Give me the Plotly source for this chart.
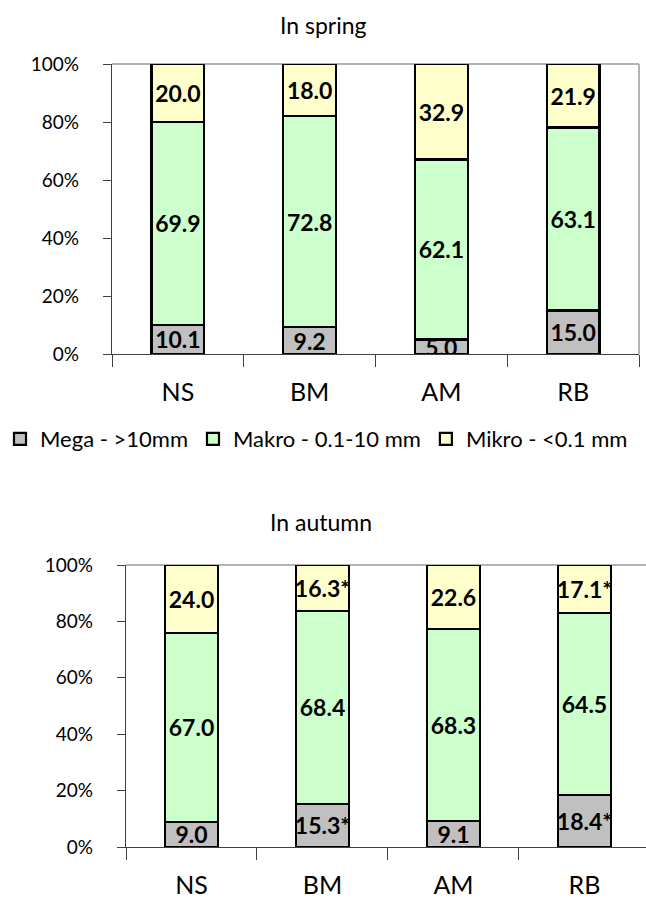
import plotly.graph_objects as go

# Sites and size-fraction shares (%) of the sediment samples
sites = ["NS", "BM", "AM", "RB"]
series_names = ["Mega - >10mm", "Makro - 0.1-10 mm", "Mikro - <0.1 mm"]
series_colors = ["#C0C0C0", "#CCFFCC", "#FFFFCC"]

spring_mega = [10.1, 9.2, 5.0, 15.0]
spring_makro = [69.9, 72.8, 62.1, 63.1]
spring_mikro = [20.0, 18.0, 32.9, 21.9]

autumn_mega = [9.0, 15.3, 9.1, 18.4]
autumn_makro = [67.0, 68.4, 68.3, 64.5]
autumn_mikro = [24.0, 16.3, 22.6, 17.1]

# significance markers appended to the autumn mega / mikro labels
spring_flags = ["", "", "", ""]
autumn_flags = ["", "*", "", "*"]

yticks = [0, 20, 40, 60, 80, 100]
ytick_text = [f"{v}%" for v in yticks]

FONT = "Lato, Open Sans, sans-serif"
W, H = 646, 899

fig = go.Figure()


def label(values, flags=None):
    flags = flags or [""] * len(values)
    return [f"{v:.1f}{f}" for v, f in zip(values, flags)]


def add_panel(xa, ya, mega, makro, mikro, flags, show_legend):
    data = [
        (mega, label(mega, flags)),
        (makro, label(makro)),
        (mikro, label(mikro, flags)),
    ]
    for (vals, txt), name, col in zip(data, series_names, series_colors):
        fig.add_trace(go.Bar(
            x=sites, y=vals, name=name, text=txt,
            textposition="inside", insidetextanchor="middle",
            textangle=0, constraintext="none",
            textfont=dict(family=FONT, size=23, color="black", weight="bold"),
            marker=dict(color=col, line=dict(color="black", width=2.2)),
            xaxis=xa, yaxis=ya, showlegend=show_legend,
            cliponaxis=True,
        ))


add_panel("x", "y", spring_mega, spring_makro, spring_mikro, spring_flags, True)
add_panel("x2", "y2", autumn_mega, autumn_makro, autumn_mikro, autumn_flags, False)

axis_col = "#404040"
frame_col = "#9a9a9a"

common_x = dict(
    type="category", tickson="boundaries", ticks="outside", ticklen=12,
    tickcolor=axis_col, tickwidth=1.3, showline=True, linecolor=axis_col,
    linewidth=1.3, showgrid=False, zeroline=False, ticklabelstandoff=16,
    tickfont=dict(family=FONT, size=25, color="black"), fixedrange=True,
    automargin=False,
)
common_y = dict(
    range=[0, 100], tickmode="array", tickvals=yticks, ticktext=ytick_text,
    ticks="outside", ticklen=8, tickcolor=axis_col, tickwidth=1.3,
    showline=True, linecolor=axis_col, linewidth=1.3, showgrid=False,
    zeroline=False, tickfont=dict(family=FONT, size=19, color="black"),
    fixedrange=True, ticklabelstandoff=20, automargin=False,
)

fig.update_layout(
    width=W, height=H, margin=dict(l=0, r=0, t=0, b=0, autoexpand=False),
    paper_bgcolor="white", plot_bgcolor="white",
    barmode="stack", bargap=0.6,
    font=dict(family=FONT, color="black"),
    xaxis=dict(domain=[112 / W, 639 / W], anchor="y", range=[-0.5, 3.5],
               **common_x),
    yaxis=dict(domain=[1 - 354 / H, 1 - 64 / H], anchor="x", **common_y),
    xaxis2=dict(domain=[126 / W, 1.0], anchor="y2", range=[-0.5, 3.47],
                **common_x),
    yaxis2=dict(domain=[1 - 847 / H, 1 - 565 / H], anchor="x2", **common_y),
    legend=dict(
        orientation="h", x=0.0, xanchor="left", y=1 - 418 / H, yanchor="top",
        font=dict(family=FONT, size=22, color="black"),
        itemwidth=30, traceorder="normal", bgcolor="rgba(0,0,0,0)",
    ),
    showlegend=True,
)

# grey plot-area frame (top and right edges)
for xr, yr, right in (("x", "y", True), ("x2", "y2", False)):
    fig.add_shape(type="line", xref=f"{xr} domain", yref=f"{yr} domain",
                  x0=0, x1=1, y0=1, y1=1, layer="below",
                  line=dict(color=frame_col, width=1.5))
    if right:
        fig.add_shape(type="line", xref=f"{xr} domain", yref=f"{yr} domain",
                      x0=1, x1=1, y0=0, y1=1, layer="below",
                      line=dict(color=frame_col, width=1.5))

# panel titles
for txt, ypix, xpix in (("In spring", 25, 323), ("In autumn", 522, 321)):
    fig.add_annotation(text=txt, xref="paper", yref="paper",
                       x=xpix / W, y=1 - ypix / H, showarrow=False,
                       xanchor="center", yanchor="middle",
                       font=dict(family=FONT, size=23, color="black"))

fig.write_html("out.html")
